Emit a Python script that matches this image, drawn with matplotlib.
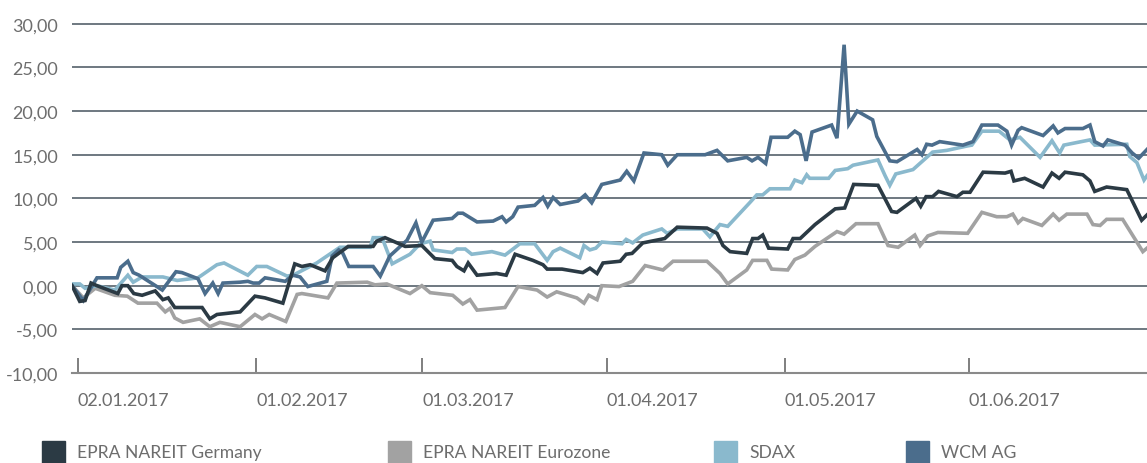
import matplotlib
matplotlib.use("Agg")
import matplotlib.pyplot as plt
from matplotlib.patches import Rectangle

plt.rcParams['font.family'] = ['Lato', 'DejaVu Sans']

# days since 01.01.2017 and performance in %
wcm_days = [0.0, 1.9, 4.2, 7.6, 8.2, 9.4, 10.3, 11.3, 15.2, 17.5, 18.5, 21.2, 22.4, 23.7, 24.6, 25.4,
            28.3, 29.6, 30.5, 31.5, 32.5, 35.9, 37.2, 38.4, 39.7, 42.9, 43.8, 44.9, 45.6, 46.6, 50.7,
            51.9, 53.5, 56.4, 57.9, 58.9, 60.8, 64.0, 65.0, 65.8, 68.2, 70.9, 72.4, 73.1, 74.2, 75.1,
            77.9, 79.3, 80.1, 81.0, 82.2, 85.2, 86.4, 87.5, 89.2, 92.3, 93.4, 94.6, 96.3, 99.3, 100.3,
            101.9, 106.6, 108.6, 110.4, 113.6, 114.5, 115.5, 116.8, 117.7, 120.5, 121.7, 122.6, 123.6,
            124.6, 127.9, 128.8, 130.0, 130.8, 132.2, 133.5, 134.8, 135.5, 137.7, 138.9, 142.3, 143.1,
            143.9, 144.8, 146.1, 150.0, 151.7, 153.2, 155.9, 157.4, 158.2, 159.3, 159.9, 163.5, 165.2,
            166.0, 167.2, 170.2, 171.4, 172.2, 173.6, 174.4, 177.3, 178.5, 179.6, 181.0]
wcm_vals = [0, -1.7, 0.9, 0.9, 2.1, 2.8, 1.5, 1.2, -0.5, 1.6, 1.5, 0.8, -0.9, 0.3, -0.9, 0.3,
            0.4, 0.5, 0.3, 0.3, 0.9, 0.5, 1.2, 1.0, -0.1, 0.5, 3.4, 4.1, 3.7, 2.2, 2.2,
            1.1, 3.4, 5.2, 7.2, 5.0, 7.5, 7.7, 8.3, 8.3, 7.3, 7.4, 7.9, 7.3, 7.9, 9.0,
            9.2, 10.1, 9.1, 10.1, 9.3, 9.7, 10.4, 9.5, 11.6, 12.1, 13.1, 12.0, 15.2, 15.0, 13.8,
            15.0, 15.0, 15.5, 14.3, 14.7, 14.3, 14.7, 14.0, 17.0, 17.0, 17.7, 17.3, 14.3,
            17.6, 18.4, 16.9, 27.6, 18.5, 20.0, 19.5, 19.0, 17.1, 14.3, 14.2, 15.6, 15.0,
            16.2, 16.1, 16.5, 16.1, 16.5, 18.4, 18.4, 17.7, 16.1, 17.8, 18.1, 17.2, 18.3,
            17.5, 18.0, 18.0, 18.4, 16.5, 16.0, 16.7, 16.1, 15.2, 14.6, 15.6]

sdax_days = [0.0, 1.3, 2.2, 4.2, 7.2, 9.4, 10.3, 11.8, 15.3, 17.7, 21.2, 24.4, 25.6, 29.6, 31.1, 32.8,
             36.2, 37.2, 41.2, 45.1, 50.2, 50.7, 52.2, 53.9, 56.9, 58.6, 60.3, 60.8, 64.0, 64.8, 66.2,
             67.3, 70.7, 72.9, 75.4, 77.9, 80.0, 81.0, 82.2, 85.5, 86.2, 87.2, 88.2, 89.2, 92.6, 93.3,
             94.4, 96.1, 99.3, 100.2, 101.9, 106.2, 107.4, 109.1, 110.4, 114.1, 115.3, 116.3, 117.5,
             120.9, 121.7, 122.9, 123.7, 124.2, 127.4, 128.5, 130.6, 131.5, 135.7, 136.9, 137.7, 138.7,
             141.6, 144.9, 147.3, 150.7, 151.5, 153.2, 156.1, 157.9, 159.6, 163.0, 165.0, 166.3, 167.0,
             171.4, 172.2, 177.6, 178.1, 179.3, 180.5, 181.0]
sdax_vals = [0.2, 0.2, -0.3, 0.0, -0.5, 1.2, 0.4, 1.0, 1.0, 0.6, 0.9, 2.4, 2.6, 1.2, 2.2, 2.2,
             1.1, 1.2, 2.6, 4.4, 4.4, 5.5, 5.5, 2.5, 3.6, 4.8, 5.1, 4.1, 3.8, 4.2, 4.2,
             3.6, 3.9, 3.5, 4.8, 4.8, 2.9, 3.9, 4.3, 3.2, 4.6, 4.1, 4.3, 5.0, 4.8, 5.3,
             4.9, 5.8, 6.5, 6.0, 6.5, 6.5, 5.6, 7.0, 6.8, 9.5, 10.4, 10.4, 11.1,
             11.1, 12.1, 11.8, 12.7, 12.3, 12.3, 13.2, 13.4, 13.8, 14.4, 12.6, 11.5, 12.8,
             13.3, 15.3, 15.5, 16.0, 16.1, 17.7, 17.7, 16.7, 17.0, 14.7, 16.6, 15.2, 16.1,
             16.7, 16.1, 16.2, 14.8, 14.1, 12.1, 12.6]

ger_days = [0.0, 1.3, 2.2, 3.2, 4.2, 7.7, 8.4, 9.4, 10.4, 11.8, 14.0, 15.3, 16.2, 17.3, 21.9, 23.2,
            24.4, 28.3, 30.8, 32.5, 35.5, 37.5, 38.7, 40.1, 42.6, 43.9, 46.5, 50.7, 51.3, 52.7, 56.1,
            58.9, 61.1, 64.0, 64.8, 66.0, 66.7, 68.2, 71.5, 73.1, 74.6, 77.6, 79.3, 80.0, 82.5, 86.0,
            87.2, 88.4, 89.4, 92.3, 93.3, 94.3, 96.1, 99.8, 101.9, 106.9, 108.6, 109.6, 110.8, 113.6,
            114.6, 115.5, 116.3, 117.3, 120.5, 121.4, 122.6, 125.1, 128.5, 130.1, 131.6, 135.7, 138.0,
            138.9, 142.1, 142.9, 143.8, 144.9, 145.9, 149.0, 150.0, 151.2, 153.4, 157.1, 158.1, 158.6,
            160.4, 163.5, 165.0, 166.2, 167.2, 170.2, 171.4, 172.2, 174.2, 177.6, 180.1, 181.0]
ger_vals = [0, -1.8, -1.7, 0.3, 0.0, -0.9, 0.0, 0.0, -0.9, -1.1, -0.6, -1.6, -1.4, -2.5, -2.5, -3.8,
            -3.3, -3.0, -1.2, -1.4, -2.0, 2.5, 2.2, 2.4, 1.7, 3.2, 4.5, 4.5, 5.1, 5.5, 4.5,
            4.6, 3.1, 2.9, 2.2, 1.7, 2.6, 1.2, 1.4, 1.2, 3.6, 2.9, 2.4, 1.9, 1.9, 1.5,
            2.0, 1.4, 2.6, 2.8, 3.6, 3.7, 4.9, 5.4, 6.7, 6.6, 6.0, 4.6, 3.9, 3.7,
            5.4, 5.4, 5.8, 4.3, 4.2, 5.4, 5.4, 7.0, 8.8, 8.9, 11.6, 11.5, 8.5,
            8.4, 10.0, 9.1, 10.2, 10.2, 10.8, 10.2, 10.7, 10.7, 13.0, 12.9, 13.1, 12.0,
            12.3, 11.3, 12.9, 12.3, 13.0, 12.7, 12.0, 10.8, 11.3, 11.0, 7.5, 8.1]

euro_days = [0.0, 1.9, 3.9, 7.2, 9.3, 11.1, 14.3, 15.7, 16.5, 17.3, 18.7, 21.5, 23.2, 24.9, 28.3, 30.8,
             32.0, 33.2, 36.0, 37.9, 38.7, 43.1, 44.6, 49.7, 51.0, 53.0, 56.9, 58.9, 60.3, 64.1, 65.8,
             67.0, 68.2, 72.9, 75.1, 78.3, 80.0, 81.6, 85.0, 86.2, 87.0, 88.4, 89.2, 92.1, 94.4, 96.5,
             99.5, 101.2, 106.9, 109.1, 110.4, 113.6, 114.6, 117.0, 117.8, 120.5, 121.7, 123.4, 125.1,
             128.8, 130.0, 132.0, 135.7, 137.4, 139.1, 141.9, 142.8, 144.1, 145.8, 150.8, 153.2, 155.7,
             157.4, 158.4, 159.3, 160.1, 163.3, 165.2, 166.2, 167.5, 170.9, 171.9, 173.1, 174.2, 176.9,
             180.3, 181.0]
euro_vals = [0, -1.4, -0.3, -1.1, -1.2, -2.0, -2.0, -3.0, -2.6, -3.7, -4.2, -3.8, -4.7, -4.2, -4.7, -3.3,
             -3.8, -3.3, -4.1, -1.0, -0.9, -1.4, 0.3, 0.4, 0.1, 0.2, -0.9, 0.0, -0.8, -1.1, -2.1,
             -1.6, -2.8, -2.5, -0.1, -0.5, -1.3, -0.7, -1.4, -2.0, -1.1, -1.6, 0.0, -0.1, 0.5, 2.3,
             1.8, 2.8, 2.8, 1.4, 0.2, 1.8, 2.9, 2.9, 1.9, 1.8, 3.0, 3.5, 4.5,
             6.2, 5.9, 7.1, 7.1, 4.6, 4.4, 5.8, 4.6, 5.7, 6.1, 6.0, 8.4, 7.9,
             7.9, 8.2, 7.2, 7.7, 6.9, 8.2, 7.5, 8.2, 8.2, 7.0, 6.9, 7.6, 7.6,
             3.9, 4.3]

tick_days = [1, 31, 59, 90, 120, 151]
tick_labels = ["02.01.2017", "01.02.2017", "01.03.2017", "01.04.2017", "01.05.2017", "01.06.2017"]
y_ticks = [-10, -5, 0, 5, 10, 15, 20, 25, 30]

names = ["EPRA NAREIT Germany", "EPRA NAREIT Eurozone", "SDAX", "WCM AG"]
colors = ["#2b3a44", "#a2a2a2", "#8ab9cd", "#4b6d8c"]

fig = plt.figure(figsize=(11.47, 4.64), dpi=100)
ax = fig.add_axes([0.0628, 0.194, 0.9372, 0.762])

ax.plot(euro_days, euro_vals, color=colors[1], lw=2.6, solid_joinstyle='miter', zorder=3)
ax.plot(sdax_days, sdax_vals, color=colors[2], lw=2.6, solid_joinstyle='miter', zorder=3)
ax.plot(wcm_days, wcm_vals, color=colors[3], lw=2.6, solid_joinstyle='miter', zorder=4)
ax.plot(ger_days, ger_vals, color=colors[0], lw=2.6, solid_joinstyle='miter', zorder=5)

ax.set_xlim(0, 181)
ax.set_ylim(-10, 30.5)
for v in y_ticks[1:]:
    ax.axhline(v, color="#46535e", lw=1.1, zorder=1)

ax.set_yticks(y_ticks)
ax.set_yticklabels([f"{v:.2f}".replace(".", ",") for v in y_ticks])
ax.set_xticks(tick_days)
ax.set_xticklabels(tick_labels, ha="left")

for s in ["top", "right", "left"]:
    ax.spines[s].set_visible(False)
ax.spines["bottom"].set_color("#8a8a8a")
ax.spines["bottom"].set_linewidth(1.5)
ax.tick_params(axis="x", direction="in", length=11, width=1.2, color="#6a6a6a",
               labelsize=13, labelcolor="#6d6d6d", pad=14)
ax.tick_params(axis="y", length=0, labelsize=13, labelcolor="#6d6d6d", pad=10)

# legend
leg_x = [42, 388, 714, 906]
for x0, name, c in zip(leg_x, names, colors):
    fig.patches.append(Rectangle((x0 / 1147, 0.0), 23 / 1147, 22 / 464, transform=fig.transFigure,
                                 color=c, figure=fig))
    fig.text((x0 + 35) / 1147, 11 / 464, name, fontsize=12.6, color="#6d6d6d", va="center")

fig.savefig("out.png", dpi=100)
